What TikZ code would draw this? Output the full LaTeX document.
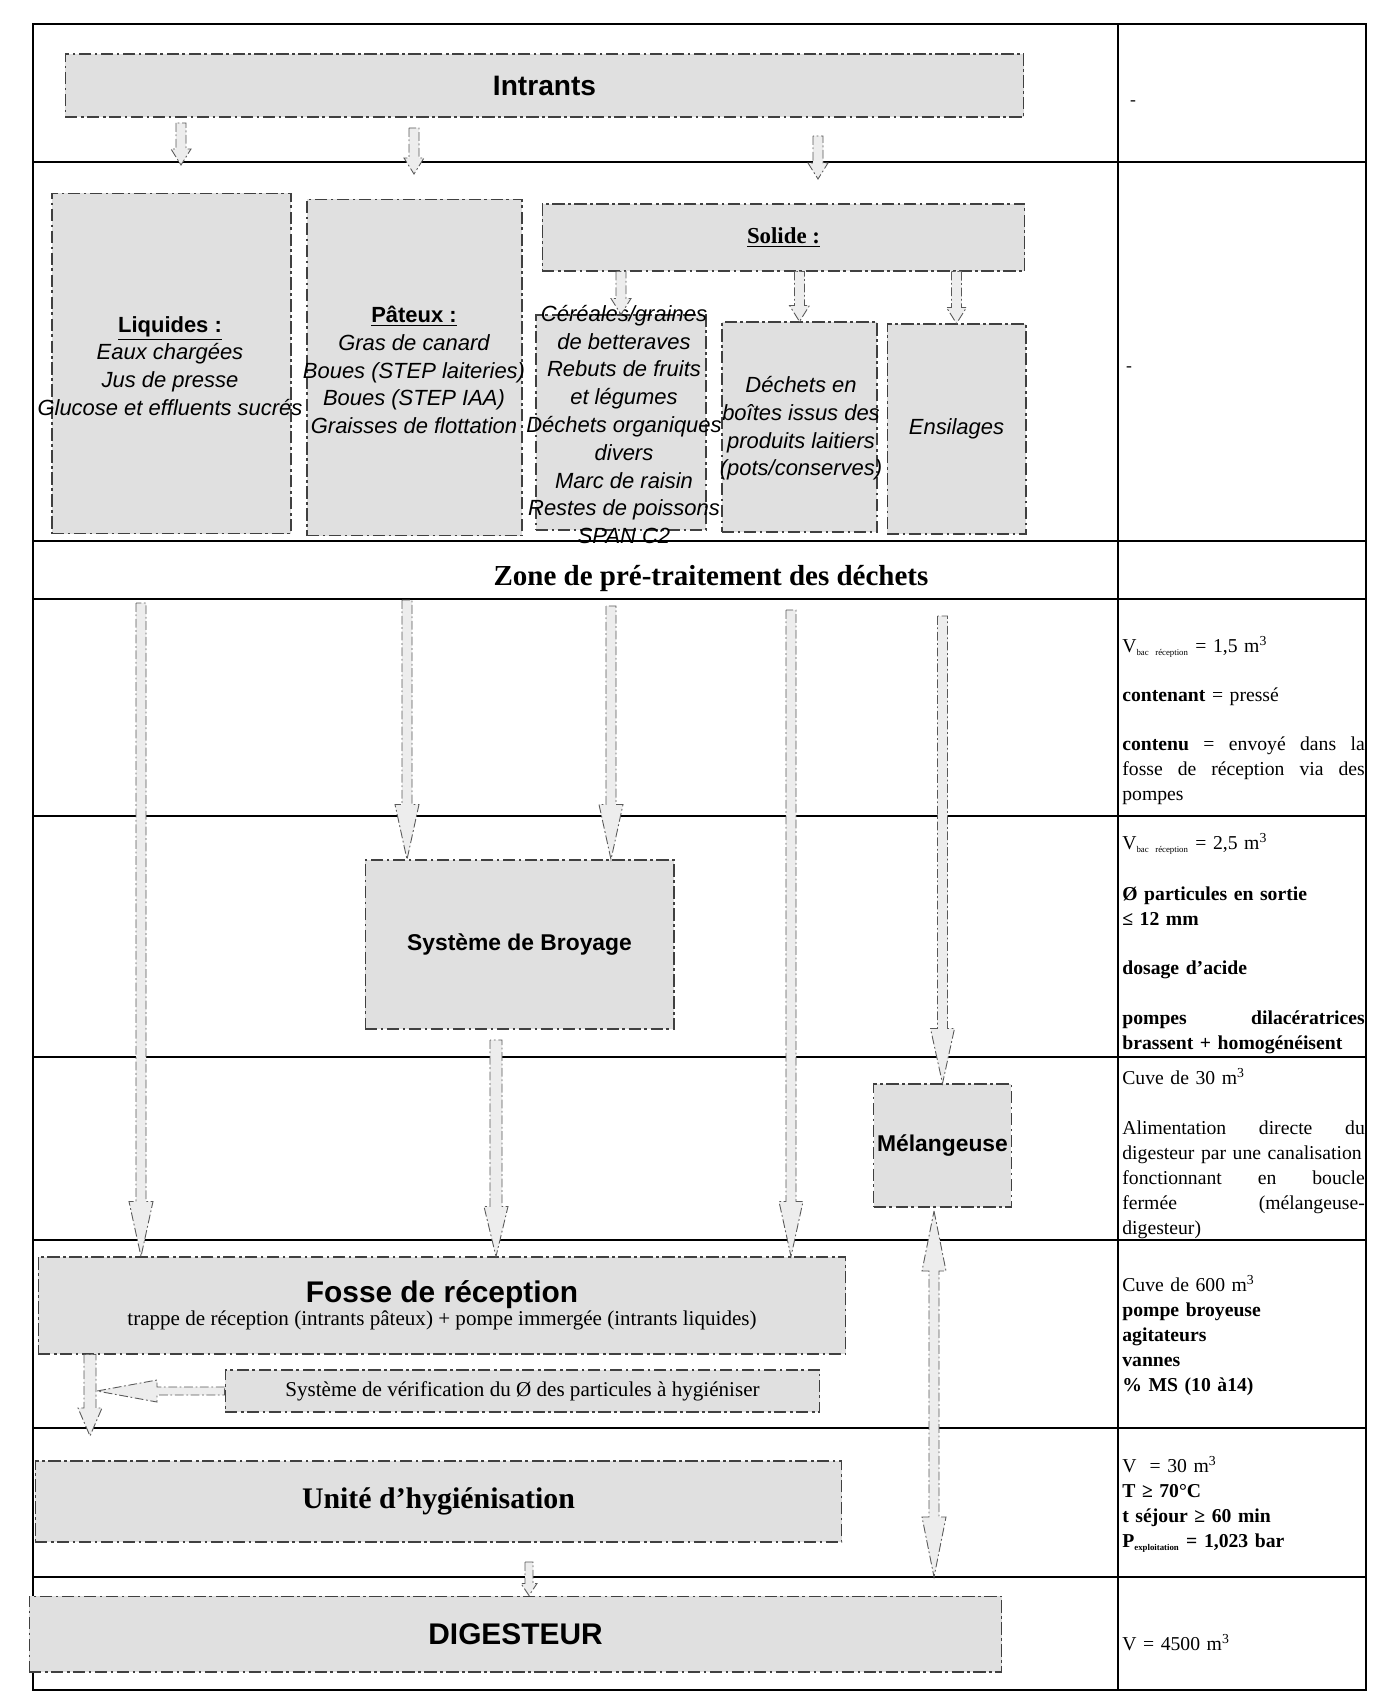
\documentclass[tikz,border=0pt]{standalone}
\usepackage{fontspec}
\setmainfont{Liberation Serif}
\newfontfamily\arialf{Liberation Sans}
\usetikzlibrary{calc}
\hyphenpenalty=10000
\exhyphenpenalty=10000

\newcommand{\flecheBas}[5]{%
	\draw[fleche] ($(#1)+(-#3,0)$) -- ($(#2)+(-#3,-#5)$) -- ($(#2)+(-#4,-#5)$) -- (#2)
		-- ($(#2)+(#4,-#5)$) -- ($(#2)+(#3,-#5)$) -- ($(#1)+(#3,0)$) -- cycle;}

\begin{document}
\begin{tikzpicture}[x=0.02cm, y=-0.02cm,
	grille/.style={line width=0.9pt},
	boite/.style={draw=black!75, fill=black!12, line width=0.6pt, dash pattern=on 7pt off 2pt on 1.5pt off 2pt, inner sep=2pt, align=center},
	fleche/.style={draw=black!65, fill=black!7, line width=0.5pt, dash pattern=on 5pt off 1.5pt on 1pt off 1.5pt},
	liste/.style={font=\arialf\itshape\fontsize{12.5}{15.8}\selectfont, align=center, inner sep=0pt},
	titre/.style={font=\arialf\bfseries\fontsize{17}{20}\selectfont},
	note/.style={anchor=north west, text width=4.85cm, align=left, inner sep=0pt, font=\fontsize{11.2}{14.2}\selectfont}]
	\path[use as bounding box, fill=white] (0,0) rectangle (1378,1703);
	\draw[grille] (33,24) rectangle (1366,1690);
	\draw[grille] (1118,24) -- (1118,1690);
	\foreach \y in {162,541,599,816,1057,1240,1428,1577}
		\draw[grille] (33,\y) -- (1366,\y);

	\node[boite, minimum width=19.18cm, minimum height=1.26cm, font=\arialf\bfseries\fontsize{16}{19}\selectfont] (intrants) at (544.5,85.5) {Intrants};
	\node[boite, minimum width=4.78cm, minimum height=6.82cm] (liquides) at (171.5,363.5) {};
	\node[boite, minimum width=4.30cm, minimum height=6.74cm] (pateux) at (414.5,367.5) {};
	\node[boite, minimum width=9.66cm, minimum height=1.34cm, font=\bfseries\fontsize{13}{15}\selectfont] (solide) at (783.5,237.5) {\underline{Solide :}};
	\node[boite, minimum width=3.40cm, minimum height=4.30cm] (cereales) at (621,422.5) {};
	\node[boite, minimum width=3.10cm, minimum height=4.20cm] (boites) at (799.5,427) {};
	\node[boite, minimum width=2.78cm, minimum height=4.20cm, font=\arialf\itshape\fontsize{12.5}{15.8}\selectfont] (ensilages) at (956.5,429) {Ensilages};

	\node[liste] (liquidesT) at (170,366) {{\upshape\bfseries\underline{Liquides :}}\\Eaux chargées\\Jus de presse\\Glucose et effluents sucrés};
	\node[liste] (pateuxT) at (414,370) {{\upshape\bfseries\underline{Pâteux :}}\\Gras de canard\\Boues (STEP laiteries)\\Boues (STEP IAA)\\Graisses de flottation};
	\node[liste] (cerealesT) at (624,424.5) {Céréales/graines\\de betteraves\\Rebuts de fruits\\et légumes\\Déchets organiques\\divers\\Marc de raisin\\Restes de poissons\\SPAN C2};
	\node[liste] (boitesT) at (801,428.5) {Déchets en\\boîtes issus des\\produits laitiers\\(pots/conserves)};

	\node[font=\bfseries\fontsize{16.5}{19}\selectfont] (zone) at (711,579) {Zone de pré-traitement des déchets};

	\node[boite, minimum width=6.18cm, minimum height=3.38cm, font=\arialf\bfseries\fontsize{13}{15}\selectfont] (broyage) at (519.5,944.5) {Système de Broyage};
	\node[boite, minimum width=2.74cm, minimum height=2.46cm, font=\arialf\bfseries\fontsize{13}{15}\selectfont] (melangeuse) at (942.5,1145.5) {Mélangeuse};
	\node[boite, minimum width=16.16cm, minimum height=1.94cm] (fosse) at (442,1305.5) {{\arialf\bfseries\fontsize{17}{20}\selectfont Fosse de réception}\\[1pt]{\fontsize{12}{14}\selectfont trappe de réception (intrants pâteux) + pompe immergée (intrants liquides)}};
	\node[boite, minimum width=11.90cm, minimum height=0.84cm, font=\fontsize{12}{14}\selectfont] (verif) at (522.5,1391) {Système de vérification du Ø des particules à hygiéniser};
	\node[boite, minimum width=16.14cm, minimum height=1.62cm, font=\bfseries\fontsize{17}{20}\selectfont] (hygien) at (438.5,1501.5) {Unité d'hygiénisation};
	\node[boite, minimum width=19.46cm, minimum height=1.52cm, titre] (digesteur) at (515.5,1634) {DIGESTEUR};

	\foreach \n/\x/\ya/\yb in {1/181/123/165, 2/414/128/174, 3/818/136/179} {
		\coordinate (haut\n) at (\x,\ya);
		\coordinate (bas\n) at (\x,\yb);
		\flecheBas{haut\n}{bas\n}{5}{10}{16}
	}
	\flecheBas{cereales.north |- solide.south}{cereales.north}{5}{10}{16}
	\flecheBas{boites.north |- solide.south}{boites.north}{5}{10}{16}
	\flecheBas{ensilages.north |- solide.south}{ensilages.north}{5}{10}{16}

	\coordinate (l1) at (141,603);
	\coordinate (l2) at (407,600);
	\coordinate (l3) at (611,606);
	\coordinate (l4) at (791,610);
	\coordinate (l5) at (942.5,616);
	\flecheBas{l1}{l1 |- fosse.north}{5}{12}{55}
	\flecheBas{l2}{l2 |- broyage.north}{5}{12}{55}
	\flecheBas{l3}{l3 |- broyage.north}{5}{12}{55}
	\flecheBas{l4}{l4 |- fosse.north}{5}{12}{55}
	\flecheBas{l5}{melangeuse.north}{5}{12}{55}

	\coordinate (b1) at (496,1040);
	\flecheBas{b1}{b1 |- fosse.north}{6}{12}{50}

	\coordinate (f2) at (90,1436);
	\flecheBas{fosse.south -| f2}{f2}{6}{12}{28}
	\coordinate (vtip) at ($(f2 |- verif.west)+(7,0)$);
	\draw[fleche] ($(verif.west)+(0,-4)$) -- ($(vtip)+(60,-4)$) -- ++(0,-7) -- (vtip) -- ($(vtip)+(60,11)$) -- ++(0,-7) -- ($(verif.west)+(0,4)$) -- cycle;

	\coordinate (h1) at (529,1562);
	\flecheBas{h1}{h1 |- digesteur.north}{4}{8}{12}

	\coordinate (dhaut) at (934,1211);
	\coordinate (dbas) at (934,1577);
	\draw[fleche] (dhaut) -- ++(12,60) -- ++(-7,0) -- ($(dbas)+(5,-60)$) -- ++(7,0) -- (dbas) -- ++(-12,-60) -- ++(7,0) -- ($(dhaut)+(-5,60)$) -- ++(-7,0) -- cycle;

	\node (tiret1) at (1133,103) {-};
	\node (tiret2) at (1129,369) {-};

	\node[note] (note1) at (1122,636) {V\textsubscript{\tiny bac~réception} = 1,5 m\textsuperscript{3}\\[13.6pt]
		\textbf{contenant} = pressé\\[13.6pt]
		\textbf{contenu} \hfill = \hfill envoyé \hfill dans \hfill la\\
		fosse \hfill de \hfill réception \hfill via \hfill des\\
		pompes};
	\node[note] (note2) at (1122,833) {V\textsubscript{\tiny bac~réception} = 2,5 m\textsuperscript{3}\\[15pt]
		\textbf{Ø particules en sortie}\\
		\textbf{≤ 12 mm}\\[13.6pt]
		\textbf{dosage d'acide}\\[14.5pt]
		\textbf{pompes} \hfill \textbf{dilacératrices}\\
		\textbf{brassent + homogénéisent}};
	\node[note] (note3) at (1122,1068) {Cuve de 30 m\textsuperscript{3}\\[14.5pt]
		Alimentation \hfill directe \hfill du\\
		digesteur par une canalisation\\
		fonctionnant \hfill en \hfill boucle\\
		fermée \hfill (mélangeuse-\\
		digesteur)};
	\node[note] (note4) at (1122,1275) {Cuve de 600 m\textsuperscript{3}\\
		\textbf{pompe broyeuse}\\
		\textbf{agitateurs}\\
		\textbf{vannes}\\
		\textbf{\% MS (10 à14)}};
	\node[note] (note5) at (1122,1456) {V \ = 30 m\textsuperscript{3}\\
		\textbf{T ≥ 70°C}\\
		\textbf{t séjour ≥ 60 min}\\
		\textbf{P\textsubscript{\tiny exploitation} = 1,023 bar}};
	\node[note] (note6) at (1122,1634) {V = 4500 m\textsuperscript{3}};
\end{tikzpicture}
\end{document}
